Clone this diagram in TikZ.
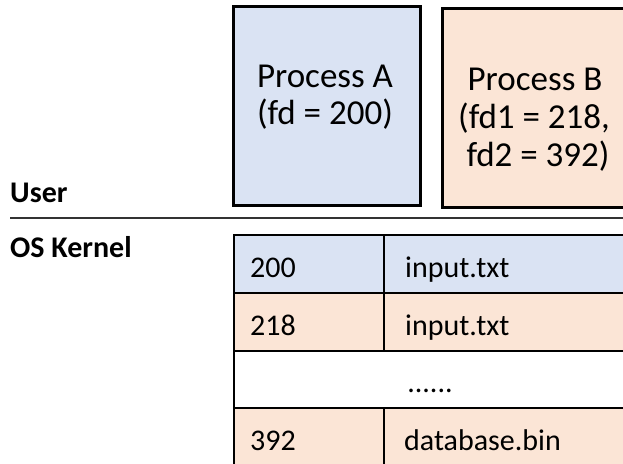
\documentclass[tikz,border=0pt]{standalone}
\usepackage{fontspec}
\setmainfont{Carlito}
\definecolor{fdblue}{HTML}{DAE3F3}
\definecolor{fdpeach}{HTML}{FBE5D6}
\tikzstyle{pbox}=[draw=black, line width=2.5pt, inner sep=0, anchor=north west]
\tikzstyle{cell}=[draw=black, line width=2pt, inner sep=0, anchor=north west, minimum height=57.5pt]
\tikzstyle{big}=[font=\fontsize{35}{40}\selectfont, inner sep=0, anchor=base]
\tikzstyle{txt}=[font=\fontsize{30}{36}\selectfont, inner sep=0, anchor=base west]
\tikzstyle{lbl}=[font=\bfseries\fontsize{30}{36}\selectfont, inner sep=0, anchor=base west]

\begin{document}
\begin{tikzpicture}[x=1pt,y=-1pt]
\useasboundingbox (0,0) rectangle (623,463);
\clip (0,0) rectangle (623,463);
\fill[white] (0,0) rectangle (623,463);
\draw (232,5) node[pbox, fill=fdblue, minimum width=187pt, minimum height=199pt](pa) {};
\draw (441,7) node[pbox, fill=fdpeach, minimum width=240pt, minimum height=199pt](pb) {};
\draw (325,87) node[big](pa1) {Process A};
\draw (325,124) node[big](pa2) {(fd = 200)};
\draw (535,90) node[big](pb1) {Process B};
\draw (534,128) node[big](pb2) {(fd1 = 218,};
\draw (538,166) node[big](pb3) {fd2 = 392)};
\draw (10,202) node[lbl](user) {User};
\draw (10,257) node[lbl](kern) {OS Kernel};
\coordinate (sl) at (10,218);
\coordinate (sr) at (623,218);
\draw[line width=1.5pt, black!80] (sl)--(sr);
\draw (233,234) node[cell, fill=fdblue, minimum width=150pt](r1a) {};
\draw (383,234) node[cell, fill=fdblue, minimum width=300pt](r1b) {};
\draw (233,292) node[cell, fill=fdpeach, minimum width=150pt](r2a) {};
\draw (383,292) node[cell, fill=fdpeach, minimum width=300pt](r2b) {};
\draw (233,349.5) node[cell, fill=white, minimum width=450pt](r3) {};
\draw (233,407) node[cell, fill=fdpeach, minimum width=150pt, minimum height=80pt](r4a) {};
\draw (383,407) node[cell, fill=fdpeach, minimum width=300pt, minimum height=80pt](r4b) {};
\draw (250,277) node[txt](t1a) {200};
\draw (405,277) node[txt](t1b) {input.txt};
\draw (250,335) node[txt](t2a) {218};
\draw (405,335) node[txt](t2b) {input.txt};
\draw (430,392) node[txt, anchor=base](t3) {......};
\draw (250,450) node[txt](t4a) {392};
\draw (404,450) node[txt](t4b) {database.bin};
\end{tikzpicture}
\end{document}
